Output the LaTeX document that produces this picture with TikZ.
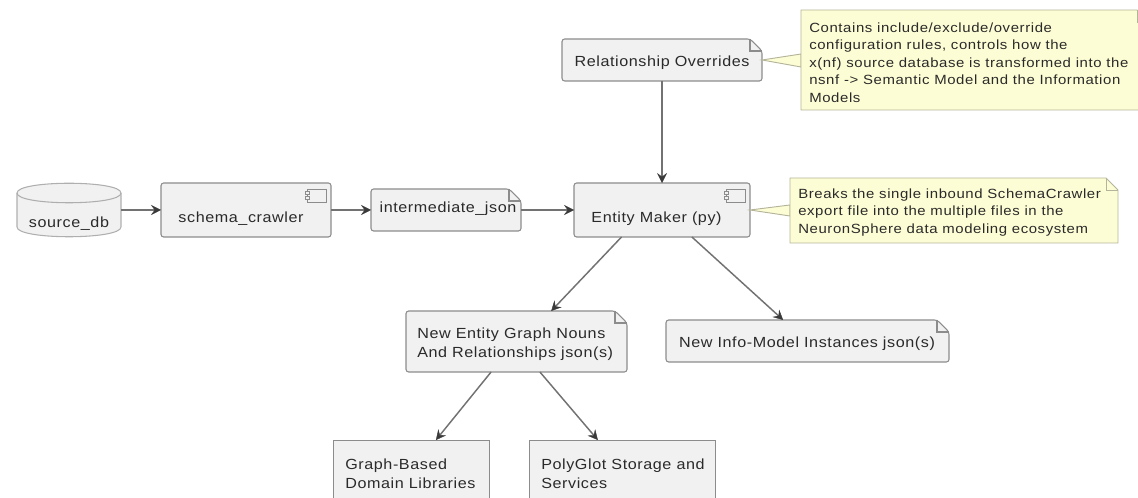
\documentclass[tikz,border=0pt]{standalone}
\usepackage{fontspec}
\setmainfont[LetterSpace=4,FakeStretch=1.1]{Liberation Sans}
\newfontfamily\notefont[LetterSpace=4.5,FakeStretch=1.12]{Liberation Sans}
\usetikzlibrary{arrows.meta,calc,shapes.geometric}
\definecolor{boxfill}{HTML}{F1F1F1}
\definecolor{boxline}{HTML}{8C8C8C}
\definecolor{notefill}{HTML}{FDFDD5}
\definecolor{noteline}{HTML}{B4B49A}
\definecolor{txt}{HTML}{2A2A2A}
\definecolor{conn}{HTML}{727272}
\definecolor{head}{HTML}{3A3A3A}
\newcommand{\fs}{\fontsize{11}{14.3}\selectfont}
\newcommand{\fn}{\notefont\fontsize{10}{13.2}\selectfont}
\tikzset{
  x=0.75pt,y=-0.75pt,
  label text/.style={inner sep=0pt,text=txt,align=left,font=\fs},
  note text/.style={inner sep=0pt,text=txt,align=left,font=\fn},
  area/.style={inner sep=0pt,outer sep=0pt,minimum width=0pt,minimum height=0pt},
  boxstyle/.style={draw=boxline,fill=boxfill,line width=0.8pt,rounded corners=2pt},
  notestyle/.style={draw=noteline,fill=notefill,line width=0.7pt},
  flow/.style={draw=conn,line width=1.1pt,-{Stealth[length=7.5pt,width=7.5pt,inset=2.8pt,color=head,fill=head,line width=0.3pt]}},
  tail/.style={draw=noteline,fill=notefill,line width=0.7pt},
}
\newcommand{\place}[5]{\path (#2,#3) coordinate (#1-nw) (#4,#5) coordinate (#1-se) (#2,#5) coordinate (#1-sw) (#4,#3) coordinate (#1-ne);}
\newcommand{\foldbox}[6]{% style, name, x1,y1,x2,y2
  \place{#2}{#3}{#4}{#5}{#6}
  \draw[#1] ($(#2-nw)$) -- ($(#2-ne)+(-12,0)$) -- ($(#2-ne)+(0,12)$) -- ($(#2-se)$) -- ($(#2-sw)$) -- cycle;
  \draw[#1,fill=none,rounded corners=0pt] ($(#2-ne)+(-12,0)$) -- ($(#2-ne)+(-12,12)$) -- ($(#2-ne)+(0,12)$);
}
\newcommand{\compicon}[1]{% top right component symbol
  \draw[boxline,fill=boxfill,line width=0.7pt] ($(#1-ne)+(-24,6)$) rectangle ($(#1-ne)+(-5,19)$);
  \draw[boxline,fill=boxfill,line width=0.7pt] ($(#1-ne)+(-26,8.5)$) rectangle ($(#1-ne)+(-22,11.5)$);
  \draw[boxline,fill=boxfill,line width=0.7pt] ($(#1-ne)+(-26,13.5)$) rectangle ($(#1-ne)+(-22,16.5)$);
}
\begin{document}
\begin{tikzpicture}
\useasboundingbox (0,0) rectangle (1138,498);
\clip (0,0) rectangle (1138,498);

% database
\node[area,minimum width=78pt,minimum height=40.5pt] (db) at (69,210) {};
\draw[boxstyle,rounded corners=0pt,draw=boxline!70]
  (17,193) -- (17,227) .. controls (17,240) and (121,240) .. (121,227) -- (121,193)
  .. controls (121,180) and (17,180) .. (17,193) -- cycle;
\draw[boxline!70,line width=0.8pt] (17,193) .. controls (17,206) and (121,206) .. (121,193);
\node[label text] (dbt) at (69,224) {source\_db};

% components
\draw[boxstyle] (161,183) rectangle (331,237);
\node[area,minimum width=127.5pt,minimum height=40.5pt] (sc) at (246,210) {};
\place{sc}{161}{183}{331}{237}
\compicon{sc}
\node[label text] (sct) at (241,219) {schema\_crawler};

\draw[boxstyle] (574,183) rectangle (750,237);
\node[area,minimum width=132pt,minimum height=40.5pt] (em) at (662,210) {};
\place{em}{574}{183}{750}{237}
\compicon{em}
\node[label text] (emt) at (656.5,219) {Entity Maker (py)};

% documents
\foldbox{boxstyle}{ij}{371}{189}{521}{231}
\node[area,minimum width=112.5pt,minimum height=31.5pt] (ijn) at (446,210) {};
\node[label text] (ijt) at (448,209) {intermediate\_json};

\foldbox{boxstyle}{ro}{562}{39}{762}{81}
\node[area,minimum width=150pt,minimum height=31.5pt] (ron) at (662,60) {};
\node[label text] (rot) at (662,63) {Relationship Overrides};

\foldbox{boxstyle}{ne}{406}{311}{627}{372}
\node[area,minimum width=165.75pt,minimum height=45.75pt] (nen) at (516.5,341.5) {};
\node[label text,anchor=west] (net) at (417,344) {New Entity Graph Nouns\\And Relationships json(s)};

\foldbox{boxstyle}{im}{666}{320}{949}{362}
\node[area,minimum width=212.25pt,minimum height=31.5pt] (imn) at (807.5,341) {};
\node[label text] (imt) at (807,343.5) {New Info-Model Instances json(s)};

% plain rectangles, cut by the lower edge
\node[area,draw=boxline,fill=boxfill,line width=0.7pt,minimum width=117pt,minimum height=60pt,rectangle] (gd) at (411,480) {};
\node[label text,anchor=west] (gdt) at (345,473.5) {Graph-Based\\Domain Libraries};
\node[area,draw=boxline,fill=boxfill,line width=0.7pt,minimum width=139.5pt,minimum height=60pt,rectangle] (pg) at (622,480) {};
\node[label text,anchor=west] (pgt) at (541,473.5) {PolyGlot Storage and\\Services};

% notes
\draw[tail] (ron.east) -- (801,54) -- (801,67) -- cycle;
\foldbox{notestyle}{n1}{801}{10}{1149}{110}
\node[area,minimum width=252pt,minimum height=75pt] (non) at (969,60) {};
\node[note text,anchor=west] (not) at (809,62.5) {Contains include/exclude/override\\configuration rules, controls how the\\x(nf) source database is transformed into the\\nsnf -> Semantic Model and the Information\\Models};

\draw[tail] (em.east) -- (790,205) -- (790,216) -- cycle;
\foldbox{notestyle}{n2}{790}{178}{1118}{243}
\node[area,minimum width=246pt,minimum height=48.75pt] (ntn) at (954,210.5) {};
\node[note text,anchor=west] (ntt) at (798,212.5) {Breaks the single inbound SchemaCrawler\\export file into the multiple files in the\\NeuronSphere data modeling ecosystem};

% connectors
\draw[flow] (db.east) -- (sc.west);
\draw[flow] (sc.east) -- (ijn.west);
\draw[flow] (ijn.east) -- (em.west);
\draw[flow] (ron.south) -- (em.north);
\draw[flow] ($(em.south west)!0.27!(em.south east)$) -- ($(nen.north west)!0.657!(nen.north east)$);
\draw[flow] ($(em.south west)!0.67!(em.south east)$) -- ($(imn.north west)!0.414!(imn.north east)$);
\draw[flow] ($(nen.south west)!0.385!(nen.south east)$) -- ($(gd.north west)!0.66!(gd.north east)$);
\draw[flow] ($(nen.south west)!0.606!(nen.south east)$) -- ($(pg.north west)!0.37!(pg.north east)$);
\end{tikzpicture}
\end{document}
